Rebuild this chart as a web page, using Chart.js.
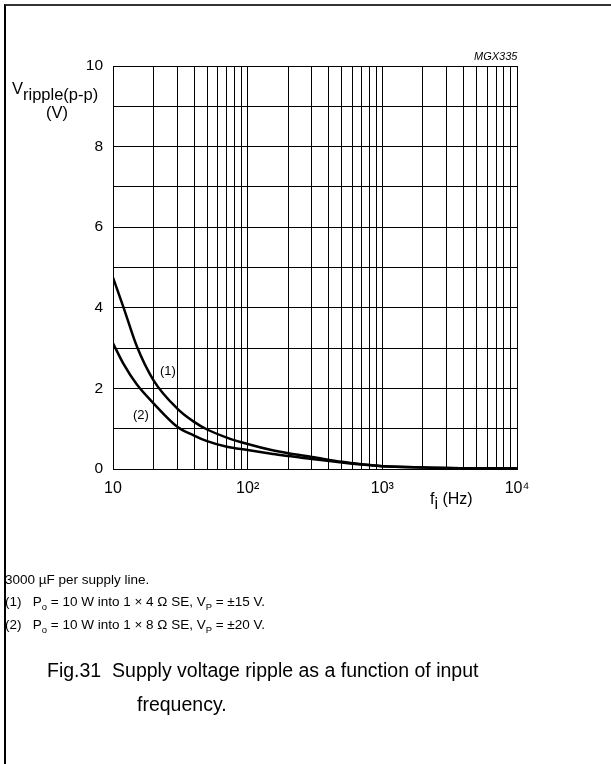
<!DOCTYPE html>
<html>
<head>
<meta charset="utf-8">
<script src="https://cdn.jsdelivr.net/npm/chart.js@4.4.1/dist/chart.umd.min.js"></script>
<style>
  body { margin: 0; background: #fff; font-family: "Liberation Sans", Arial, sans-serif; color: #000; }
  #wrap { position: relative; width: 611px; height: 764px; overflow: hidden; }
  #chart { position: absolute; left: 0; top: 0; }
  .frame { position: absolute; left: 4px; top: 4px; width: 620px; height: 780px;
           border-top: 2px solid #333; border-left: 2px solid #000; }
  .t { position: absolute; white-space: nowrap; line-height: 1; }
  sub, sup { font-size: 70%; line-height: 0; }
</style>
</head>
<body>
<div id="wrap">
  <div class="frame"></div>
  <canvas id="chart" width="611" height="764"></canvas>

  <div class="t" style="left:12px; top:80px; font-size:16.5px;">V<sub style="font-size:16.5px; vertical-align:-6px;">ripple(p-p)</sub></div>
  <div class="t" style="left:46px; top:104px; font-size:16.5px;">(V)</div>
  <div class="t" style="left:474px; top:51px; font-size:11px; font-style:italic;">MGX335</div>
  <div class="t" style="left:430px; top:491px; font-size:16px;">f<sub style="font-size:16px; vertical-align:-5px;">i</sub> (Hz)</div>
  <div class="t" style="left:160px; top:364px; font-size:13px;">(1)</div>
  <div class="t" style="left:133px; top:408px; font-size:13px;">(2)</div>

  <div class="t" style="left:5px; top:573px; font-size:13.5px;">3000 &micro;F per supply line.</div>
  <div class="t" style="left:5px; top:595px; font-size:13.5px;">(1)&nbsp;&nbsp; P<sub>o</sub> = 10 W into 1 &times; 4 &Omega; SE, V<sub>P</sub> = &plusmn;15 V.</div>
  <div class="t" style="left:5px; top:618px; font-size:13.5px;">(2)&nbsp;&nbsp; P<sub>o</sub> = 10 W into 1 &times; 8 &Omega; SE, V<sub>P</sub> = &plusmn;20 V.</div>
  <div class="t" style="left:47px; top:661px; font-size:19.5px;">Fig.31&nbsp;&nbsp;Supply voltage ripple as a function of input</div>
  <div class="t" style="left:137px; top:695px; font-size:19.5px;">frequency.</div>
</div>

<script>
// Data
const freq = [10, 12, 15, 20, 30, 40, 50, 70, 100, 150, 200, 300, 500, 700, 1000, 2000, 5000, 10000];
const ripple1 = [4.75, 4.0, 3.05, 2.2, 1.5, 1.17, 0.98, 0.78, 0.62, 0.47, 0.39, 0.30, 0.18, 0.12, 0.07, 0.04, 0.02, 0.02];
const ripple2 = [3.12, 2.6, 2.1, 1.63, 1.05, 0.83, 0.69, 0.55, 0.47, 0.38, 0.32, 0.25, 0.16, 0.11, 0.07, 0.04, 0.02, 0.02];

// Grid lines and labels
const xGrid = [10, 20, 30, 40, 50, 60, 70, 80, 90,
  100, 200, 300, 400, 500, 600, 700, 800, 900,
  1000, 2000, 3000, 4000, 5000, 6000, 7000, 8000, 9000, 10000];
const xLabels = { 10: '10', 100: '10²', 1000: '10³', 10000: '10⁴' };
const yLabels = [0, 2, 4, 6, 8, 10];

const FONT = '"Liberation Sans", Arial, sans-serif';
const Y_AXIS_W = 40;
const X_AXIS_H = 30;

function toPoints(ys) {
  return freq.map((f, i) => ({ x: f, y: ys[i] }));
}

const curveStyle = {
  borderColor: '#000',
  borderWidth: 2.5,
  pointRadius: 0,
  fill: false,
  cubicInterpolationMode: 'monotone',
};

new Chart(document.getElementById('chart').getContext('2d'), {
  type: 'line',
  data: {
    datasets: [
      { label: '(1)', data: toPoints(ripple1), ...curveStyle },
      { label: '(2)', data: toPoints(ripple2), ...curveStyle },
    ],
  },
  options: {
    responsive: false,
    animation: false,
    layout: { padding: { left: 113 - Y_AXIS_W, top: 66, right: 94, bottom: 295 - X_AXIS_H } },
    plugins: {
      legend: { display: false },
      tooltip: { enabled: false },
    },
    scales: {
      x: {
        type: 'logarithmic',
        min: 10,
        max: 10000,
        afterBuildTicks: (s) => { s.ticks = xGrid.map(v => ({ value: v })); },
        afterFit: (s) => { s.height = X_AXIS_H; },
        grid: { color: '#000', lineWidth: 1, drawTicks: false },
        border: { display: true, color: '#000', width: 1 },
        ticks: {
          autoSkip: false,
          maxRotation: 0,
          minRotation: 0,
          padding: 10,
          color: '#000',
          font: { family: FONT, size: 16 },
          callback: (v) => xLabels[v] || '',
        },
      },
      y: {
        min: 0,
        max: 10,
        afterFit: (s) => { s.width = Y_AXIS_W; },
        grid: { color: '#000', lineWidth: 1, drawTicks: false },
        border: { display: true, color: '#000', width: 1 },
        ticks: {
          stepSize: 1,
          autoSkip: false,
          padding: 10,
          color: '#000',
          font: { family: FONT, size: 15.5 },
          callback: (v) => (yLabels.includes(v) ? String(v) : ''),
        },
      },
    },
  },
});
</script>
</body>
</html>
